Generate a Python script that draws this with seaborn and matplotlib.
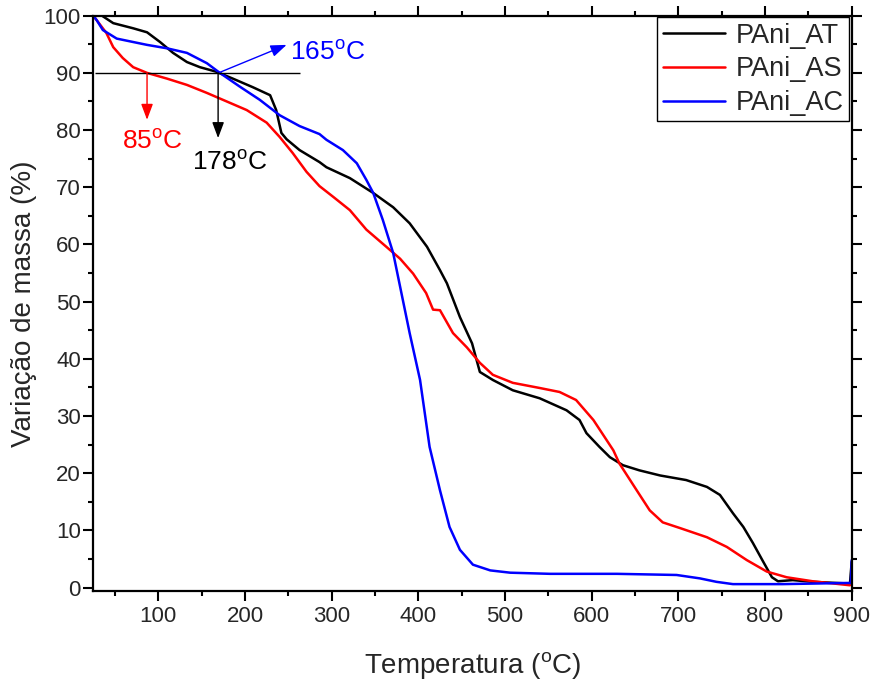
import numpy as np
import pandas as pd
import matplotlib
matplotlib.use("Agg")
import matplotlib.pyplot as plt
import seaborn as sns

# ---- data ----
at_temp = [25, 35, 48, 71, 87, 102, 117, 133, 148, 167, 186, 209, 229, 236, 242, 248, 263, 286, 294,
           321, 348, 371, 390, 410, 425, 433, 448, 462, 471, 486, 509, 540, 571, 586, 594, 609, 621,
           636, 655, 679, 709, 733, 748, 763, 775, 786, 798, 808, 815, 832, 855, 898, 900]
at_mass = [100, 100, 98.7, 97.8, 97.1, 95.4, 93.5, 91.9, 91.0, 90.2, 89.0, 87.5, 86.1, 83.5, 79.5,
           78.4, 76.5, 74.4, 73.5, 71.6, 69.0, 66.5, 63.7, 59.6, 55.5, 53.2, 47.3, 42.7, 37.7, 36.3,
           34.5, 33.1, 31.0, 29.3, 27.0, 24.6, 22.8, 21.4, 20.5, 19.6, 18.8, 17.6, 16.2, 13.0, 10.6,
           7.8, 4.5, 1.8, 1.1, 1.3, 1.0, 0.7, 4.5]

as_temp = [25, 29, 40, 48, 59, 71, 87, 110, 133, 156, 179, 202, 225, 240, 255, 271, 286, 302, 321,
           340, 363, 379, 394, 409, 417, 425, 440, 456, 471, 486, 509, 540, 563, 582, 602, 625, 632,
           652, 667, 682, 702, 733, 756, 779, 802, 825, 855, 898]
as_mass = [100, 99.2, 97.0, 94.5, 92.6, 91.0, 90.0, 89.0, 87.9, 86.5, 85.0, 83.5, 81.3, 78.8, 76.0,
           72.7, 70.2, 68.3, 66.0, 62.6, 59.6, 57.5, 54.9, 51.5, 48.6, 48.5, 44.5, 42.0, 39.3, 37.2,
           35.8, 34.9, 34.2, 32.8, 29.3, 24.0, 21.7, 17.0, 13.5, 11.4, 10.4, 8.8, 7.1, 4.8, 2.8, 1.8,
           1.1, 0.4]

ac_temp = [25, 29, 36, 52, 71, 87, 110, 133, 156, 171, 194, 217, 240, 263, 286, 294, 313, 329, 340,
           348, 359, 371, 379, 390, 402, 413, 425, 436, 448, 463, 483, 506, 552, 629, 698, 725, 744,
           763, 820, 894, 899, 900]
ac_mass = [100, 99.2, 97.5, 96.0, 95.4, 94.9, 94.3, 93.5, 91.7, 90.0, 87.6, 85.3, 82.6, 80.7, 79.3,
           78.3, 76.5, 74.2, 71.3, 69.0, 64.3, 58.5, 52.6, 44.5, 36.3, 24.6, 17.0, 10.6, 6.6, 4.0,
           3.0, 2.6, 2.4, 2.4, 2.2, 1.6, 1.0, 0.6, 0.6, 0.8, 0.8, 4.8]

series_names = ["PAni_AT", "PAni_AS", "PAni_AC"]
series_colors = ["#000000", "#ff0000", "#0000ff"]

x_ticks = [100, 200, 300, 400, 500, 600, 700, 800, 900]
y_ticks = [0, 10, 20, 30, 40, 50, 60, 70, 80, 90, 100]

# annotation values
ref_level = 90
ref_line_span = (27, 263)
ann_red = dict(text="85$^{o}$C", x=87, tip=81.8, tx=93, ty=78.0)
ann_black = dict(text="178$^{o}$C", x=169, tip=78.6, tx=182, ty=74.2)
ann_blue = dict(text="165$^{o}$C", x0=171, y0=90.1, x1=248, y1=94.9, tx=252, ty=93.6)

# ---- build long table ----
df = pd.concat([
    pd.DataFrame({"Temperatura": at_temp, "Massa": at_mass, "Amostra": series_names[0]}),
    pd.DataFrame({"Temperatura": as_temp, "Massa": as_mass, "Amostra": series_names[1]}),
    pd.DataFrame({"Temperatura": ac_temp, "Massa": ac_mass, "Amostra": series_names[2]}),
], ignore_index=True)

sns.set_style("ticks")
plt.rcParams["font.family"] = ["Liberation Sans", "DejaVu Sans"]
plt.rcParams["mathtext.default"] = "regular"

fig = plt.figure(figsize=(8.72, 6.86), dpi=100)
ax = fig.add_axes([0.107, 0.1385, 0.8697, 0.8386])

sns.lineplot(data=df, x="Temperatura", y="Massa", hue="Amostra",
             palette=dict(zip(series_names, series_colors)), hue_order=series_names,
             estimator=None, sort=True, lw=1.8, ax=ax)

ax.set_xlim(25, 900)
ax.set_ylim(-0.6, 100)
ax.set_xticks(x_ticks)
ax.set_yticks(y_ticks)
ax.set_xticks([t - 50 for t in x_ticks], minor=True)
ax.set_yticks([t + 5 for t in y_ticks[:-1]], minor=True)
ax.tick_params(axis="both", which="major", direction="out", length=7, width=1.5,
               labelsize=16, top=True, right=True, labeltop=False, labelright=False, color="black")
ax.tick_params(axis="y", which="major", pad=2)
ax.tick_params(axis="both", which="minor", direction="out", length=3.5, width=1.5,
               top=True, right=True, color="black")
for s in ax.spines.values():
    s.set_visible(True)
    s.set_linewidth(1.6)
    s.set_color("black")

ax.set_xlabel("Temperatura ($^{o}$C)", fontsize=20, labelpad=17)
ax.set_ylabel("Variação de massa (%)", fontsize=20, labelpad=5)

# reference line and arrows
ax.hlines(ref_level, ref_line_span[0], ref_line_span[1], color="black", lw=1)
astyle = "-|>,head_length=0.8,head_width=0.3"
ax.annotate("", xy=(ann_red["x"], ann_red["tip"]), xytext=(ann_red["x"], ref_level),
            arrowprops=dict(arrowstyle=astyle, color="red", lw=1, mutation_scale=12,
                            shrinkA=0, shrinkB=0))
ax.text(ann_red["tx"], ann_red["ty"], ann_red["text"], color="red", fontsize=19,
        ha="center", va="center")
ax.annotate("", xy=(ann_black["x"], ann_black["tip"]), xytext=(ann_black["x"], ref_level),
            arrowprops=dict(arrowstyle=astyle, color="black", lw=1, mutation_scale=12,
                            shrinkA=0, shrinkB=0))
ax.text(ann_black["tx"], ann_black["ty"], ann_black["text"], color="black", fontsize=19,
        ha="center", va="center")
ax.annotate("", xy=(ann_blue["x1"], ann_blue["y1"]), xytext=(ann_blue["x0"], ann_blue["y0"]),
            arrowprops=dict(arrowstyle=astyle, color="blue", lw=1, mutation_scale=12,
                            shrinkA=0, shrinkB=0))
ax.text(ann_blue["tx"], ann_blue["ty"], ann_blue["text"], color="blue", fontsize=19,
        ha="left", va="center")

leg = ax.legend(loc="upper right", bbox_to_anchor=(0.997, 0.997), borderaxespad=0,
                fontsize=19.5, frameon=True, fancybox=False, handlelength=2.3,
                handletextpad=0.4, labelspacing=0.28, borderpad=0.2, title=None)
leg.get_frame().set_edgecolor("black")
leg.get_frame().set_linewidth(1.0)
leg.get_frame().set_alpha(1)
for line in leg.get_lines():
    line.set_linewidth(1.8)

fig.savefig("out.png", dpi=100)
